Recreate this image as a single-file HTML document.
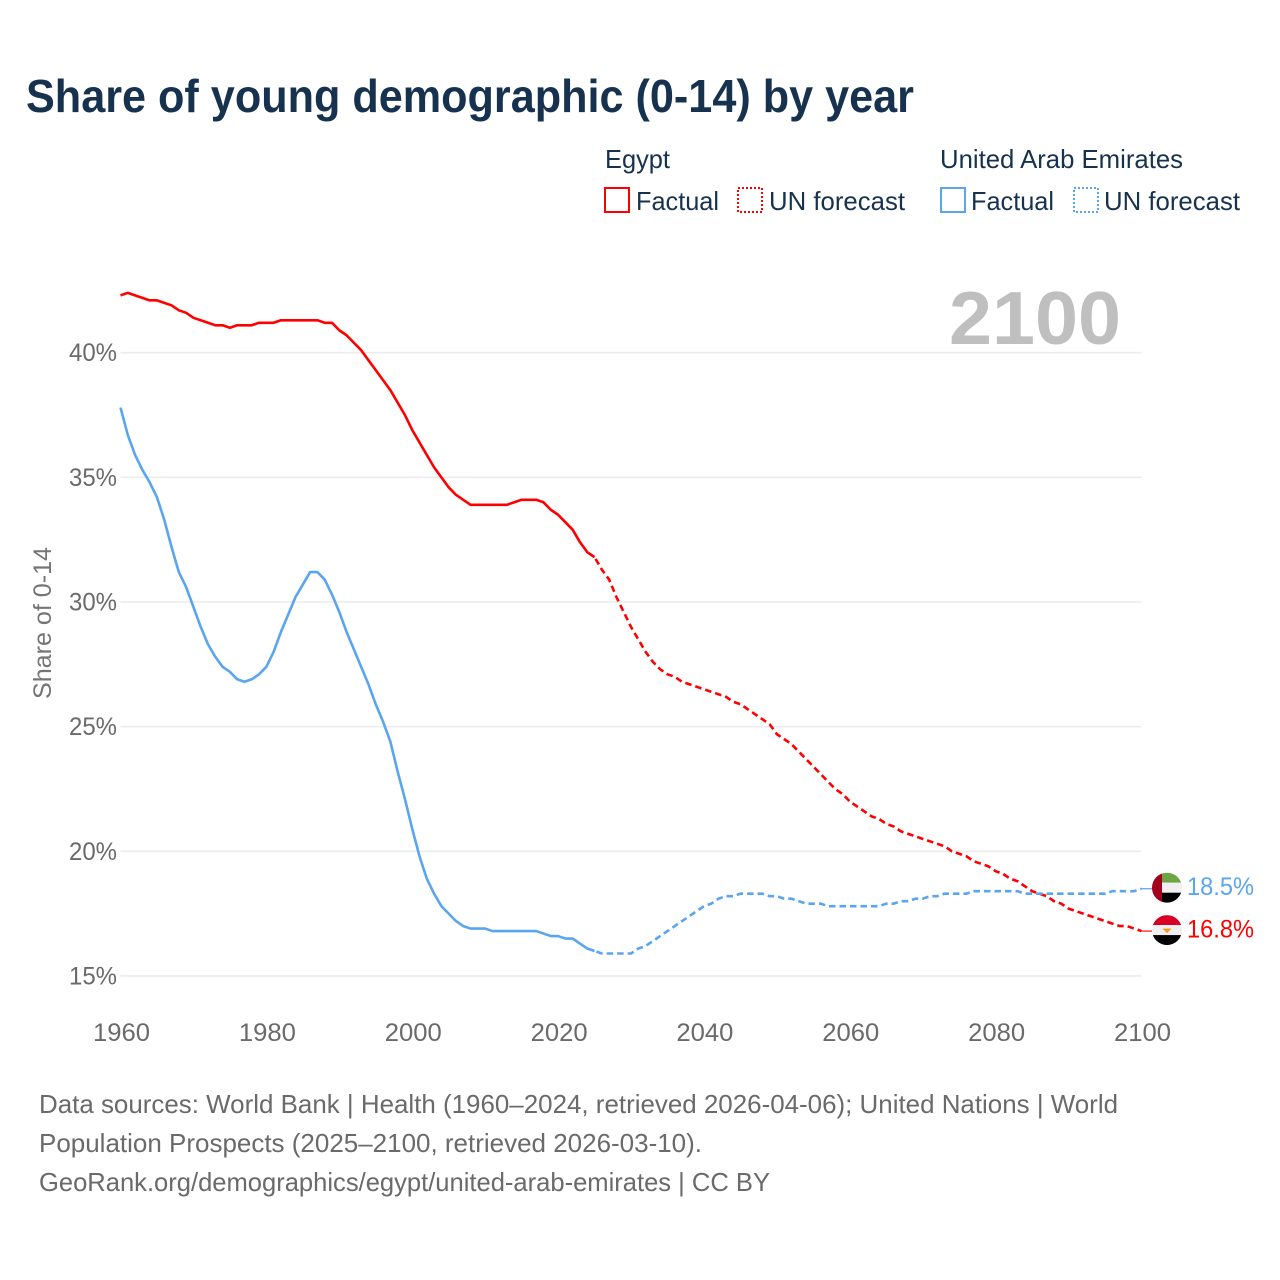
<!DOCTYPE html>
<html lang="en">
<head>
<meta charset="utf-8">
<title>Share of young demographic (0-14) by year</title>
<style>
html,body{margin:0;padding:0;background:#fff;}
svg{display:block;font-family:"Liberation Sans",Arial,sans-serif;}
</style>
</head>
<body>
<svg id="chart" xmlns="http://www.w3.org/2000/svg" width="1280" height="1280" viewBox="0 0 1280 1280">
  <defs>
    <clipPath id="clip-uae"><circle id="clip-uae-circle" cx="1167" cy="888" r="15"></circle></clipPath>
    <clipPath id="clip-egypt"><circle id="clip-egypt-circle" cx="1167" cy="930" r="15"></circle></clipPath>
  </defs>
  <rect x="0" y="0" width="1280" height="1280" fill="#ffffff"></rect>

  <text x="26" y="112" font-size="46" font-weight="700" fill="#17324f" textLength="888" lengthAdjust="spacingAndGlyphs">Share of young demographic (0-14) by year</text>

  <g font-size="26" fill="#17324f">
    <text x="605" y="168" textLength="65" lengthAdjust="spacingAndGlyphs">Egypt</text>
    <rect x="605" y="188" width="24" height="24" fill="none" stroke="#ff0000" stroke-width="2"></rect>
    <text x="636" y="210" textLength="83" lengthAdjust="spacingAndGlyphs">Factual</text>
    <rect x="738" y="188" width="24" height="24" fill="none" stroke="#ff0000" stroke-width="2" stroke-dasharray="2 2"></rect>
    <text x="769" y="210" textLength="136" lengthAdjust="spacingAndGlyphs">UN forecast</text>

    <text x="940" y="168" textLength="243" lengthAdjust="spacingAndGlyphs">United Arab Emirates</text>
    <rect x="941" y="188" width="24" height="24" fill="none" stroke="#5aa5f0" stroke-width="2"></rect>
    <text x="971" y="210" textLength="83" lengthAdjust="spacingAndGlyphs">Factual</text>
    <rect x="1074" y="188" width="24" height="24" fill="none" stroke="#5aa5f0" stroke-width="2" stroke-dasharray="2 2"></rect>
    <text x="1104" y="210" textLength="136" lengthAdjust="spacingAndGlyphs">UN forecast</text>
  </g>

  <text transform="translate(51,699) rotate(-90)" x="0" y="0" font-size="25" fill="#757575" textLength="152" lengthAdjust="spacingAndGlyphs">Share of 0-14</text>

  <g id="grid"></g>
  <g id="y-ticks"></g>
  <g id="x-ticks"></g>

  <text x="949" y="344" font-size="75" font-weight="700" fill="#bfbfbf" textLength="172" lengthAdjust="spacingAndGlyphs">2100</text>

  <g id="series"></g>

  <g id="flag-uae"></g>
  <g id="flag-egypt"></g>
  <g id="end-labels"></g>

  <g font-size="26" fill="#6a6a6a">
    <text x="39" y="1113" textLength="1079" lengthAdjust="spacingAndGlyphs">Data sources: World Bank | Health (1960–2024, retrieved 2026-04-06); United Nations | World</text>
    <text x="39" y="1152" textLength="663" lengthAdjust="spacingAndGlyphs">Population Prospects (2025–2100, retrieved 2026-03-10).</text>
    <text x="39" y="1191" textLength="731" lengthAdjust="spacingAndGlyphs">GeoRank.org/demographics/egypt/united-arab-emirates | CC BY</text>
  </g>
</svg>
<script>
const years = [
  1960,1961,1962,1963,1964,1965,1966,1967,1968,1969,
  1970,1971,1972,1973,1974,1975,1976,1977,1978,1979,
  1980,1981,1982,1983,1984,1985,1986,1987,1988,1989,
  1990,1991,1992,1993,1994,1995,1996,1997,1998,1999,
  2000,2001,2002,2003,2004,2005,2006,2007,2008,2009,
  2010,2011,2012,2013,2014,2015,2016,2017,2018,2019,
  2020,2021,2022,2023,2024,2025,2026,2027,2028,2029,
  2030,2031,2032,2033,2034,2035,2036,2037,2038,2039,
  2040,2041,2042,2043,2044,2045,2046,2047,2048,2049,
  2050,2051,2052,2053,2054,2055,2056,2057,2058,2059,
  2060,2061,2062,2063,2064,2065,2066,2067,2068,2069,
  2070,2071,2072,2073,2074,2075,2076,2077,2078,2079,
  2080,2081,2082,2083,2084,2085,2086,2087,2088,2089,
  2090,2091,2092,2093,2094,2095,2096,2097,2098,2099,
  2100
];
const egyptValues = [
  42.3,42.4,42.3,42.2,42.1,42.1,42.0,41.9,41.7,41.6,
  41.4,41.3,41.2,41.1,41.1,41.0,41.1,41.1,41.1,41.2,
  41.2,41.2,41.3,41.3,41.3,41.3,41.3,41.3,41.2,41.2,
  40.9,40.7,40.4,40.1,39.7,39.3,38.9,38.5,38.0,37.5,
  36.9,36.4,35.9,35.4,35.0,34.6,34.3,34.1,33.9,33.9,
  33.9,33.9,33.9,33.9,34.0,34.1,34.1,34.1,34.0,33.7,
  33.5,33.2,32.9,32.4,32.0,31.8,31.3,30.9,30.2,29.6,
  29.0,28.5,28.0,27.6,27.3,27.1,27.0,26.8,26.7,26.6,
  26.5,26.4,26.3,26.2,26.0,25.9,25.7,25.5,25.3,25.1,
  24.7,24.5,24.3,24.0,23.7,23.4,23.1,22.8,22.5,22.3,
  22.0,21.8,21.6,21.4,21.3,21.1,21.0,20.8,20.7,20.6,
  20.5,20.4,20.3,20.2,20.0,19.9,19.8,19.6,19.5,19.4,
  19.2,19.1,18.9,18.8,18.6,18.4,18.3,18.2,18.0,17.9,
  17.7,17.6,17.5,17.4,17.3,17.2,17.1,17.0,17.0,16.9,
  16.8
];
const uaeValues = [
  37.8,36.7,35.9,35.3,34.8,34.2,33.3,32.2,31.2,30.6,
  29.8,29.0,28.3,27.8,27.4,27.2,26.9,26.8,26.9,27.1,
  27.4,28.0,28.8,29.5,30.2,30.7,31.2,31.2,30.9,30.3,
  29.6,28.8,28.1,27.4,26.7,25.9,25.2,24.4,23.2,22.1,
  20.9,19.8,18.9,18.3,17.8,17.5,17.2,17.0,16.9,16.9,
  16.9,16.8,16.8,16.8,16.8,16.8,16.8,16.8,16.7,16.6,
  16.6,16.5,16.5,16.3,16.1,16.0,15.9,15.9,15.9,15.9,
  15.9,16.1,16.2,16.4,16.6,16.8,17.0,17.2,17.4,17.6,
  17.8,17.9,18.1,18.2,18.2,18.3,18.3,18.3,18.3,18.2,
  18.2,18.1,18.1,18.0,17.9,17.9,17.9,17.8,17.8,17.8,
  17.8,17.8,17.8,17.8,17.8,17.9,17.9,18.0,18.0,18.1,
  18.1,18.2,18.2,18.3,18.3,18.3,18.3,18.4,18.4,18.4,
  18.4,18.4,18.4,18.4,18.3,18.3,18.3,18.3,18.3,18.3,
  18.3,18.3,18.3,18.3,18.3,18.3,18.4,18.4,18.4,18.4,
  18.5
];
const yTickValues = [15, 20, 25, 30, 35, 40];
const xTickYears = [1960, 1980, 2000, 2020, 2040, 2060, 2080, 2100];
const lastSolidYear = 2025;

const svgNS = 'http://www.w3.org/2000/svg';
const xScale = function (year) { return 120.5 + (year - 1960) * 7.293; };
const yScale = function (pct) { return 352.7 + (40 - pct) * 24.93; };

function make(parent, tag, attrs) {
  const el = document.createElementNS(svgNS, tag);
  Object.keys(attrs).forEach(function (k) { el.setAttribute(k, attrs[k]); });
  parent.appendChild(el);
  return el;
}

function pathFrom(values, fromYear, toYear) {
  let d = '';
  years.forEach(function (yr, i) {
    if (yr < fromYear || yr > toYear) return;
    d += (d ? 'L' : 'M') + xScale(yr).toFixed(2) + ' ' + yScale(values[i]).toFixed(2);
  });
  return d;
}

const gridGroup = document.getElementById('grid');
const yTickGroup = document.getElementById('y-ticks');
yTickValues.forEach(function (v) {
  const line = make(gridGroup, 'line', { x1: xScale(1960), x2: xScale(2100), y1: yScale(v), y2: yScale(v), stroke: '#ececec', 'stroke-width': 1.6 });
  
  
  const label = make(yTickGroup, 'text', { x: 117, y: yScale(v) + 8.5, 'text-anchor': 'end', 'font-size': 25, fill: '#6a6a6a', textLength: 48, lengthAdjust: 'spacingAndGlyphs' });
  
  
  label.textContent = v + '%';
});

const xTickGroup = document.getElementById('x-ticks');
xTickYears.forEach(function (yr) {
  const label = make(xTickGroup, 'text', { x: xScale(yr) + 1, y: 1041, 'text-anchor': 'middle', 'font-size': 25, fill: '#6a6a6a', textLength: 57, lengthAdjust: 'spacingAndGlyphs' });
  
  
  label.textContent = String(yr);
});

const seriesGroup = document.getElementById('series');

const egyptSolid = make(seriesGroup, 'path', { d: pathFrom(egyptValues, 1960, lastSolidYear), fill: 'none', stroke: '#ff0000', 'stroke-width': 2.6, 'stroke-linejoin': 'round' });



const egyptDash = make(seriesGroup, 'path', { d: pathFrom(egyptValues, lastSolidYear, 2100), fill: 'none', stroke: '#ff0000', 'stroke-width': 2.6, 'stroke-dasharray': '6.5 4', 'stroke-dashoffset': -2 });



const uaeSolid = make(seriesGroup, 'path', { d: pathFrom(uaeValues, 1960, lastSolidYear), fill: 'none', stroke: '#5aa5f0', 'stroke-width': 2.6, 'stroke-linejoin': 'round' });



const uaeDash = make(seriesGroup, 'path', { d: pathFrom(uaeValues, lastSolidYear, 2100), fill: 'none', stroke: '#5aa5f0', 'stroke-width': 2.6, 'stroke-dasharray': '6.5 4', 'stroke-dashoffset': -2 });



const uaeLast = uaeValues[uaeValues.length - 1];
const egyptLast = egyptValues[egyptValues.length - 1];
const uaeY = yScale(uaeLast);
const egyptY = yScale(egyptLast);
const uaeFlagY = uaeY - 1;
const egyptFlagY = egyptY - 1;

const egyptStub = make(seriesGroup, 'line', { x1: xScale(2100), x2: 1152, y1: egyptY, y2: egyptY, stroke: '#ff0000', 'stroke-width': 1.4, opacity: 0.8 });



const uaeStub = make(seriesGroup, 'line', { x1: xScale(2100), x2: 1152, y1: uaeY, y2: uaeY, stroke: '#5aa5f0', 'stroke-width': 1.4, opacity: 0.9 });



document.getElementById('clip-uae-circle').setAttribute('cy', uaeFlagY);
document.getElementById('clip-egypt-circle').setAttribute('cy', egyptFlagY);

const flagX = 1152;
const flagSize = 30;

const uaeFlag = document.getElementById('flag-uae');
uaeFlag.setAttribute('clip-path', 'url(#clip-uae)');
make(uaeFlag, 'rect', { x: flagX, y: uaeFlagY - 15, width: flagSize, height: 10, fill: '#6da544' });
make(uaeFlag, 'rect', { x: flagX, y: uaeFlagY - 5, width: flagSize, height: 10, fill: '#f0f0f0' });
make(uaeFlag, 'rect', { x: flagX, y: uaeFlagY + 5, width: flagSize, height: 10, fill: '#000000' });
make(uaeFlag, 'rect', { x: flagX, y: uaeFlagY - 15, width: 10, height: flagSize, fill: '#a2001d' });

const egyptFlag = document.getElementById('flag-egypt');
egyptFlag.setAttribute('clip-path', 'url(#clip-egypt)');
make(egyptFlag, 'rect', { x: flagX, y: egyptFlagY - 15, width: flagSize, height: 10, fill: '#d80027' });
make(egyptFlag, 'rect', { x: flagX, y: egyptFlagY - 5, width: flagSize, height: 10, fill: '#f0f0f0' });
make(egyptFlag, 'rect', { x: flagX, y: egyptFlagY + 5, width: flagSize, height: 10, fill: '#000000' });
const emblem = make(egyptFlag, 'path', {
  d: 'M' + (flagX + 10.5) + ' ' + (egyptFlagY - 1.5) +
     'L' + (flagX + 19.5) + ' ' + (egyptFlagY - 1.5) +
     'L' + (flagX + 15) + ' ' + (egyptFlagY + 3) + 'Z',
  fill: '#ff9811'
});



const endGroup = document.getElementById('end-labels');
const uaeEnd = make(endGroup, 'text', { x: 1187, y: uaeFlagY + 7.5, 'font-size': 25, fill: '#5aa5f0', textLength: 67, lengthAdjust: 'spacingAndGlyphs' });


uaeEnd.textContent = uaeLast.toFixed(1) + '%';

const egyptEnd = make(endGroup, 'text', { x: 1187, y: egyptFlagY + 7.5, 'font-size': 25, fill: '#ff0000', textLength: 67, lengthAdjust: 'spacingAndGlyphs' });


egyptEnd.textContent = egyptLast.toFixed(1) + '%';
</script>
</body>
</html>
